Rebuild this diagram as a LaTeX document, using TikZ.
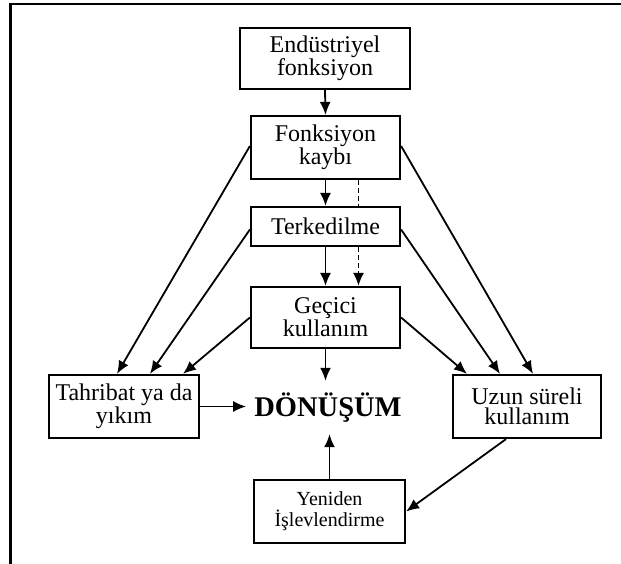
\documentclass[tikz,border=0pt]{standalone}
\usepackage{fontspec}
\setmainfont{Liberation Serif}
\usetikzlibrary{arrows.meta}
\begin{document}
\begin{tikzpicture}[x=1pt,y=-1pt,
  box/.style={draw, line width=2.2pt, fill=white, align=center, inner sep=0pt,
    font=\fontsize{24}{20}\selectfont},
  arr/.style={line width=1.8pt, -{Latex[length=13pt,width=11pt]}},
  ln/.style={line width=1.8pt}]
\useasboundingbox (0,0) rectangle (621,564);
\draw[line width=2.4pt] (10.5,570) -- (10.5,4) -- (625,4);

\node[box, minimum width=170pt, minimum height=61pt] (E) at (325,58.5) {Endüstriyel\\fonksiyon};
\node[box, minimum width=149pt, minimum height=63pt] (F) at (325.5,147.5) {Fonksiyon\\kaybı};
\node[box, minimum width=149pt, minimum height=39pt] (T) at (325.5,226.5) {Terkedilme};
\node[box, minimum width=149pt, minimum height=61pt] (G) at (325.5,317.5) {Geçici\\kullanım};
\node[box, minimum width=150pt, minimum height=63pt] (A) at (124,406.5) {Tahribat ya da\\yıkım};
\node[box, minimum width=148pt, minimum height=63pt] (U) at (527,406.5) {Uzun süreli\\kullanım};
\node[box, minimum width=151pt, minimum height=63pt, font=\fontsize{20}{21}\selectfont] (Y) at (329.5,511.5) {Yeniden\\İşlevlendirme};
\node[inner xsep=8pt, inner ysep=0pt, minimum height=53pt, font=\fontsize{28.5}{30}\selectfont\bfseries] (D) at (328,407.5) {DÖNÜŞÜM};

\draw[arr] (E.south) -- (F.north);
\draw[arr] (F.south) -- (T.north);
\draw[arr] (T.south) -- (G.north);
\draw[ln, dashed, dash pattern=on 5pt off 3pt] ([xshift=33pt]F.south) -- ([xshift=33pt]T.north);
\draw[arr, dashed, dash pattern=on 5pt off 3pt] ([xshift=33pt]T.south) -- ([xshift=33pt]G.north);
\draw[arr] (G.south) -- (G.south |- D.north);
\draw[arr] (A.east) -- (A.east -| D.west);
\draw[arr] (Y.north) -- (Y.north |- D.south);

\draw[arr] ([yshift=1.5pt]F.west) -- ([xshift=-7pt]A.north);
\draw[arr] ([yshift=-3pt]T.west) -- ([xshift=26pt]A.north);
\draw[arr] (G.west) -- ([xshift=59pt]A.north);
\draw[arr] ([yshift=1.5pt]F.east) -- ([xshift=6pt]U.north);
\draw[arr] ([yshift=-3pt]T.east) -- ([xshift=-27pt]U.north);
\draw[arr] (G.east) -- ([xshift=-60pt]U.north);
\draw[arr] ([xshift=-21pt]U.south) -- (Y.east);
\end{tikzpicture}
\end{document}
